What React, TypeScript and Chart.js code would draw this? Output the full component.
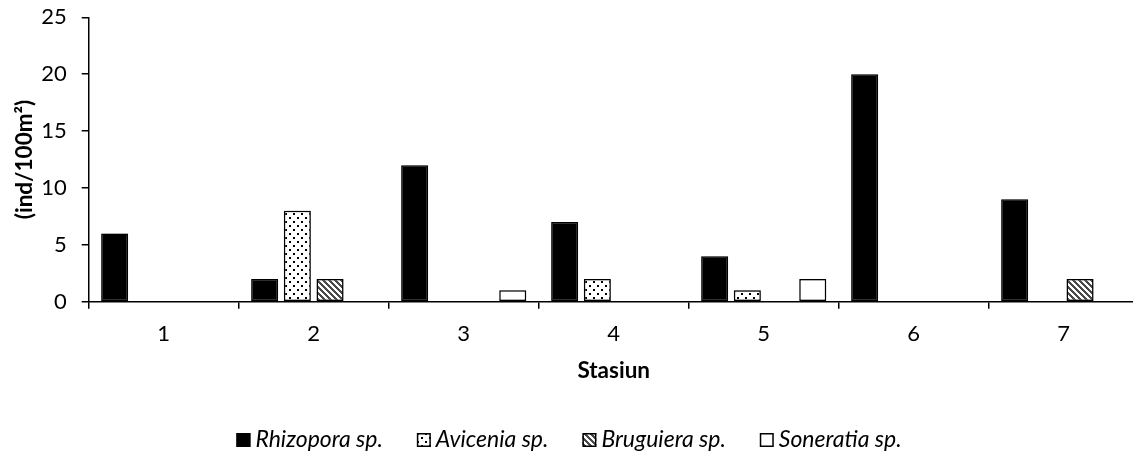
import React, { useEffect, useRef } from "react";
import { Chart, registerables } from "chart.js";

Chart.register(...registerables);

const categories = ["1", "2", "3", "4", "5", "6", "7"];
const rhizopora = [6, 2, 12, 7, 4, 20, 9];
const avicenia = [0, 8, 0, 2, 1, 0, 0];
const bruguiera = [0, 2, 0, 0, 0, 0, 2];
const soneratia = [0, 0, 1, 0, 2, 0, 0];
const seriesNames = ["Rhizopora sp.", "Avicenia sp.", "Bruguiera sp.", "Soneratia sp."];
const yTicks = [0, 5, 10, 15, 20, 25];
const xTitle = "Stasiun";
const yTitle = "(ind/100m²)";

const FONT = "Lato, 'Open Sans', 'DejaVu Sans', sans-serif";
const CANVAS_W = 1145;
const CANVAS_H = 451;
const PLOT_LEFT = 88.7;
const PLOT_RIGHT = 1138.7;
const PLOT_TOP = 17.3;
const PLOT_BOTTOM = 301.7;
const LEGEND_CENTER = 569;
const LEGEND_Y = 440;
const TICK_SIZE = 22;
const TITLE_SIZE = 22.5;
const LEGEND_SIZE = 23;

function makeDots(): CanvasPattern {
  const c = document.createElement("canvas");
  c.width = 8;
  c.height = 8;
  const g = c.getContext("2d")!;
  g.fillStyle = "#fff";
  g.fillRect(0, 0, 8, 8);
  g.fillStyle = "#000";
  g.fillRect(1, 1, 2, 2);
  g.fillRect(5, 5, 2, 2);
  return g.createPattern(c, "repeat")!;
}

function makeHatch(): CanvasPattern {
  const s = 6;
  const c = document.createElement("canvas");
  c.width = s;
  c.height = s;
  const g = c.getContext("2d")!;
  g.fillStyle = "#fff";
  g.fillRect(0, 0, s, s);
  g.fillStyle = "#4a4a4a";
  for (let x = 0; x < s; x++) {
    for (let y = 0; y < s; y++) {
      if ((((x - y) % s) + s) % s < 3) g.fillRect(x, y, 1, 1);
    }
  }
  return g.createPattern(c, "repeat")!;
}

const shadowPlugin = {
  id: "barShadow",
  beforeDatasetsDraw(chart: any) {
    const ctx = chart.ctx as CanvasRenderingContext2D;
    ctx.save();
    ctx.shadowColor = "rgba(0,0,0,0.35)";
    ctx.shadowBlur = 4;
    ctx.shadowOffsetX = 0;
    ctx.shadowOffsetY = 0;
  },
  afterDatasetsDraw(chart: any) {
    chart.ctx.restore();
  },
};

const legendPlugin = {
  id: "customLegend",
  afterDraw(chart: any) {
    const ctx = chart.ctx as CanvasRenderingContext2D;
    const ds = chart.data.datasets;
    ctx.save();
    ctx.font = `italic ${LEGEND_SIZE}px ${FONT}`;
    const box = 14;
    const gapBoxText = 5;
    const gapItems = 34;
    const widths = ds.map((d: any) => ctx.measureText(d.label).width);
    const total =
      widths.reduce((a: number, w: number) => a + box + gapBoxText + w, 0) +
      gapItems * (ds.length - 1);
    let x = LEGEND_CENTER - total / 2;
    ds.forEach((d: any, i: number) => {
      ctx.fillStyle = d.backgroundColor;
      ctx.fillRect(x, LEGEND_Y - box / 2, box, box);
      ctx.strokeStyle = "#000";
      ctx.lineWidth = 1.5;
      ctx.strokeRect(x + 0.75, LEGEND_Y - box / 2 + 0.75, box - 1.5, box - 1.5);
      ctx.fillStyle = "#000";
      ctx.textBaseline = "middle";
      ctx.textAlign = "left";
      ctx.fillText(d.label, x + box + gapBoxText, LEGEND_Y);
      x += box + gapBoxText + widths[i] + gapItems;
    });
    ctx.restore();
  },
};

export default function App() {
  const ref = useRef<HTMLCanvasElement | null>(null);

  useEffect(() => {
    if (!ref.current) return;
    const dots = makeDots();
    const hatch = makeHatch();
    const common = {
      borderColor: "#000",
      borderWidth: 1.5,
      borderSkipped: false as const,
      categoryPercentage: 0.872,
      barPercentage: 0.826,
    };
    const chart = new Chart(ref.current, {
      type: "bar",
      data: {
        labels: categories,
        datasets: [
          { label: seriesNames[0], data: rhizopora, backgroundColor: "#000", ...common },
          { label: seriesNames[1], data: avicenia, backgroundColor: dots as any, ...common },
          { label: seriesNames[2], data: bruguiera, backgroundColor: hatch as any, ...common },
          { label: seriesNames[3], data: soneratia, backgroundColor: "#fff", ...common },
        ],
      },
      options: {
        responsive: false,
        animation: false,
        layout: {
          padding: {
            left: 0,
            right: CANVAS_W - PLOT_RIGHT,
            top: PLOT_TOP,
            bottom: 0,
          },
        },
        plugins: {
          legend: { display: false },
          tooltip: { enabled: false },
        },
        scales: {
          x: {
            grid: {
              drawOnChartArea: false,
              drawTicks: true,
              tickLength: 7,
              color: "#000",
              lineWidth: 1.5,
              offset: true,
            },
            border: { color: "#000", width: 1.5 },
            ticks: {
              padding: 12,
              color: "#000",
              font: { family: FONT, size: TICK_SIZE },
            },
            title: {
              display: true,
              text: xTitle,
              color: "#000",
              font: { family: FONT, size: TITLE_SIZE, weight: "bold" },
              padding: { top: 0, bottom: 67 },
            },
            afterFit(s: any) {
              s.height = CANVAS_H - PLOT_BOTTOM;
              s.paddingLeft = 0;
              s.paddingRight = 0;
            },
          },
          y: {
            min: 0,
            max: 25,
            afterBuildTicks(s: any) {
              s.ticks = yTicks.map((v) => ({ value: v }));
            },
            grid: {
              drawOnChartArea: false,
              drawTicks: true,
              tickLength: 7,
              color: "#000",
              lineWidth: 1.5,
            },
            border: { color: "#000", width: 1.5 },
            ticks: {
              padding: 15,
              color: "#000",
              font: { family: FONT, size: TICK_SIZE },
            },
            title: {
              display: true,
              text: yTitle,
              color: "#000",
              font: { family: FONT, size: TITLE_SIZE, weight: "bold" },
              padding: { top: 11, bottom: 0 },
            },
            afterFit(s: any) {
              s.width = PLOT_LEFT;
              s.paddingTop = 0;
              s.paddingBottom = 0;
            },
          },
        },
      },
      plugins: [shadowPlugin, legendPlugin],
    });
    return () => chart.destroy();
  }, []);

  return (
    <div
      style={{
        position: "fixed",
        left: 0,
        top: 0,
        width: 1133,
        height: 451,
        overflow: "hidden",
        background: "#fff",
      }}
    >
      <canvas ref={ref} width={CANVAS_W} height={CANVAS_H} style={{ display: "block" }} />
    </div>
  );
}
